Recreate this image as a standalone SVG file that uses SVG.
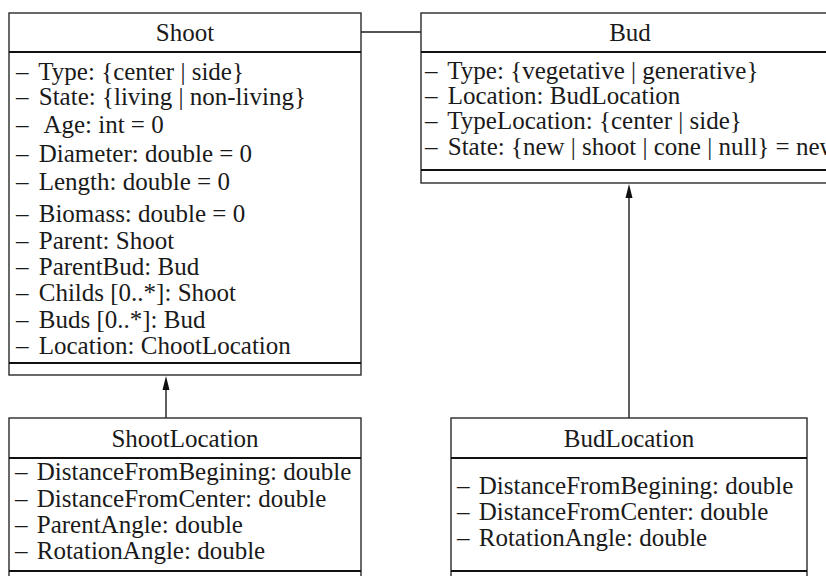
<svg xmlns="http://www.w3.org/2000/svg" width="826" height="576" viewBox="0 0 826 576">
  <style>
    .box { fill: #ffffff; stroke: #2a2a2a; stroke-width: 1.4; }
    .sep { stroke: #111111; stroke-width: 2.2; }
    .conn { stroke: #1a1a1a; stroke-width: 1.4; fill: none; }
    .head { fill: #111111; }
  </style>
  <rect width="826" height="576" fill="#ffffff"/>

  <!-- connectors -->
  <g id="connectors">
    <line class="conn" x1="361" y1="32" x2="421" y2="32"/>
    <line class="conn" x1="166" y1="418" x2="166" y2="380"/>
    <path class="head" d="M166 376 L169.5 390 L162.5 390 Z"/>
    <line class="conn" x1="629" y1="418" x2="629" y2="190"/>
    <path class="head" d="M629 184 L632.5 198 L625.5 198 Z"/>
  </g>

  <!-- Shoot class -->
  <g id="shoot" fill="#1a1a1a">
    <rect class="box" x="9" y="13" width="352" height="362"/>
    <line class="sep" x1="9" y1="52" x2="361" y2="52"/>
    <line class="sep" x1="9" y1="363" x2="361" y2="363"/>
    <text font-family="Liberation Serif" font-size="25" x="185" y="41" text-anchor="middle">Shoot</text>
    <text font-family="Liberation Serif" font-size="25" x="16" y="80">– <tspan dx="4">Type: {center | side}</tspan></text>
    <text font-family="Liberation Serif" font-size="25" x="16" y="105">– <tspan dx="4">State: {living | non-living}</tspan></text>
    <text font-family="Liberation Serif" font-size="25" x="16" y="133">– <tspan dx="10">Age: int = 0</tspan></text>
    <text font-family="Liberation Serif" font-size="25" x="16" y="162">– <tspan dx="4">Diameter: double = 0</tspan></text>
    <text font-family="Liberation Serif" font-size="25" x="16" y="190">– <tspan dx="4">Length: double = 0</tspan></text>
    <text font-family="Liberation Serif" font-size="25" x="16" y="222">– <tspan dx="4">Biomass: double = 0</tspan></text>
    <text font-family="Liberation Serif" font-size="25" x="16" y="249">– <tspan dx="4">Parent: Shoot</tspan></text>
    <text font-family="Liberation Serif" font-size="25" x="16" y="275">– <tspan dx="4">ParentBud: Bud</tspan></text>
    <text font-family="Liberation Serif" font-size="25" x="16" y="301">– <tspan dx="4">Childs [0..*]: Shoot</tspan></text>
    <text font-family="Liberation Serif" font-size="25" x="16" y="328">– <tspan dx="4">Buds [0..*]: Bud</tspan></text>
    <text font-family="Liberation Serif" font-size="25" x="16" y="354">– <tspan dx="4">Location: ChootLocation</tspan></text>
  </g>

  <!-- Bud class -->
  <g id="bud" fill="#1a1a1a">
    <rect class="box" x="421" y="13" width="420" height="170"/>
    <line class="sep" x1="421" y1="52" x2="841" y2="52"/>
    <line class="sep" x1="421" y1="170" x2="841" y2="170"/>
    <text font-family="Liberation Serif" font-size="25" x="630" y="41" text-anchor="middle">Bud</text>
    <text font-family="Liberation Serif" font-size="25" x="425" y="79">– <tspan dx="4">Type: {vegetative | generative}</tspan></text>
    <text font-family="Liberation Serif" font-size="25" x="425" y="104">– <tspan dx="4">Location: BudLocation</tspan></text>
    <text font-family="Liberation Serif" font-size="25" x="425" y="129">– <tspan dx="4">TypeLocation: {center | side}</tspan></text>
    <text font-family="Liberation Serif" font-size="25" x="425" y="155">– <tspan dx="4">State: {new | shoot | cone | null} = new</tspan></text>
  </g>

  <!-- ShootLocation class -->
  <g id="shoot-location" fill="#1a1a1a">
    <rect class="box" x="9" y="418" width="352" height="190"/>
    <line class="sep" x1="9" y1="458" x2="361" y2="458"/>
    <line class="sep" x1="9" y1="571" x2="361" y2="571"/>
    <text font-family="Liberation Serif" font-size="25" x="185" y="447" text-anchor="middle">ShootLocation</text>
    <text font-family="Liberation Serif" font-size="25" x="15" y="480">– <tspan dx="3">DistanceFromBegining: double</tspan></text>
    <text font-family="Liberation Serif" font-size="25" x="15" y="507">– <tspan dx="3">DistanceFromCenter: double</tspan></text>
    <text font-family="Liberation Serif" font-size="25" x="15" y="533">– <tspan dx="3">ParentAngle: double</tspan></text>
    <text font-family="Liberation Serif" font-size="25" x="15" y="559">– <tspan dx="3">RotationAngle: double</tspan></text>
  </g>

  <!-- BudLocation class -->
  <g id="bud-location" fill="#1a1a1a">
    <rect class="box" x="451" y="418" width="356" height="190"/>
    <line class="sep" x1="451" y1="458" x2="807" y2="458"/>
    <line class="sep" x1="451" y1="571" x2="807" y2="571"/>
    <text font-family="Liberation Serif" font-size="25" x="629" y="447" text-anchor="middle">BudLocation</text>
    <text font-family="Liberation Serif" font-size="25" x="457" y="494">– <tspan dx="3">DistanceFromBegining: double</tspan></text>
    <text font-family="Liberation Serif" font-size="25" x="457" y="520">– <tspan dx="3">DistanceFromCenter: double</tspan></text>
    <text font-family="Liberation Serif" font-size="25" x="457" y="546">– <tspan dx="3">RotationAngle: double</tspan></text>
  </g>
</svg>
